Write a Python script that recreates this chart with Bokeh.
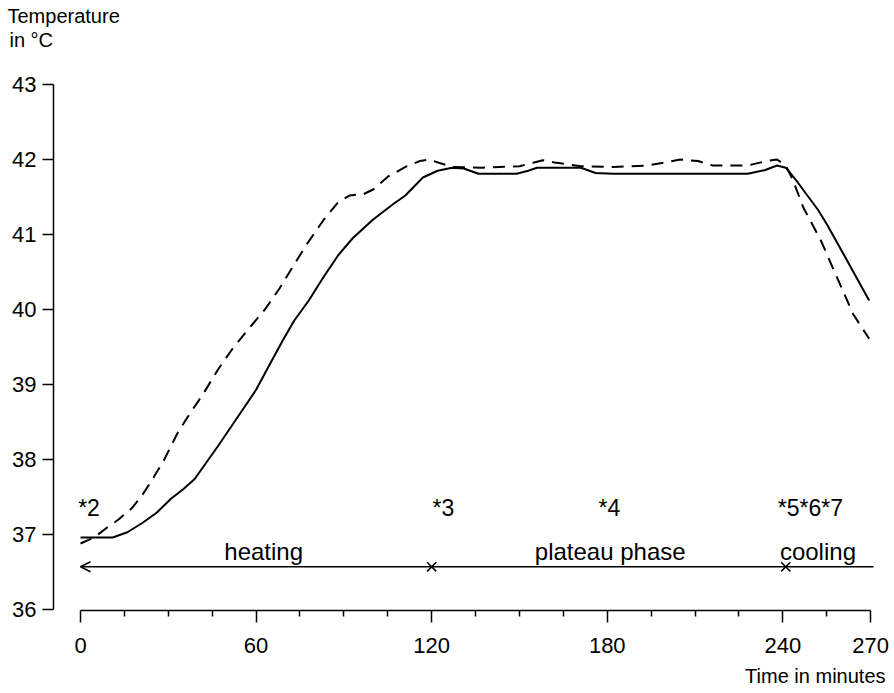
from bokeh.plotting import figure
from bokeh.models import Range1d, FixedTicker, Label, Arrow, OpenHead, Title
from bokeh.embed import file_html
from bokeh.resources import INLINE

# ---- data ----
solid_t = [0, 5, 11, 16, 21, 26, 31, 35, 39, 43, 47, 51, 55, 60, 64, 69, 73, 78, 83, 88, 93,
           100, 107, 111, 114, 117, 122, 127, 131, 136, 149, 153, 156, 171, 176, 182, 228,
           234, 238, 241, 245, 248, 252, 255, 262, 269.5]
solid_T = [36.96, 36.96, 36.96, 37.03, 37.15, 37.29, 37.48, 37.6, 37.74, 37.96, 38.18, 38.41,
           38.64, 38.93, 39.22, 39.58, 39.85, 40.12, 40.43, 40.72, 40.95, 41.2, 41.41, 41.52,
           41.64, 41.76, 41.85, 41.89, 41.88, 41.81, 41.81, 41.85, 41.89, 41.89, 41.82, 41.81,
           41.81, 41.86, 41.92, 41.89, 41.7, 41.54, 41.33, 41.14, 40.65, 40.12]

dashed_t = [0, 4.6, 9, 13, 17.5, 21, 24, 28.5, 33, 36.5, 42, 47, 52, 57, 63, 68, 73, 77.5, 83,
            88, 92, 96.8, 100, 105, 111.5, 116, 119, 123, 127, 137, 150, 155, 158, 162, 171,
            182, 194, 205, 211, 216, 228, 234.5, 238, 241, 243.5, 247, 253, 258.5, 264, 269.5]
dashed_T = [36.88, 36.96, 37.09, 37.2, 37.35, 37.52, 37.7, 37.99, 38.34, 38.56, 38.88, 39.2,
            39.48, 39.72, 40.0, 40.28, 40.6, 40.88, 41.19, 41.43, 41.52, 41.54, 41.6, 41.77,
            41.91, 41.98, 42.0, 41.95, 41.9, 41.89, 41.91, 41.96, 41.99, 41.96, 41.91, 41.9,
            41.92, 42.0, 41.98, 41.92, 41.92, 41.98, 42.0, 41.92, 41.72, 41.36, 40.92, 40.43,
            39.94, 39.61]

x_ticks = [0, 60, 120, 180, 240, 270]
x_minor = [15, 30, 45, 75, 90, 105, 135, 150, 165, 195, 210, 225, 255]
y_ticks = [36, 37, 38, 39, 40, 41, 42, 43]

phase_names = ["heating", "plateau phase", "cooling"]
phase_centers = [62.6, 181, 252]
phase_marks = [120, 241]
phase_line = [0, 271]
phase_level = 36.57

note_texts = ["*2", "*3", "*4", "*5*6*7"]
note_pos = [-0.8, 120.3, 177, 238.3]
note_level = 37.35

FONT = "Liberation Sans"

p = figure(width=894, height=693, output_backend="svg", toolbar_location=None,
           x_range=Range1d(-9.23, 274.4), y_range=Range1d(35.987, 43.453),
           min_border_left=53, min_border_right=11, min_border_top=50, min_border_bottom=83)
p.outline_line_color = None
p.xgrid.visible = False
p.ygrid.visible = False
p.background_fill_color = "white"
p.border_fill_color = "white"

# axes
xa = p.xaxis[0]
xa.bounds = (0, 270)
xa.ticker = FixedTicker(ticks=x_ticks, minor_ticks=x_minor)
xa.major_tick_out = 12
xa.major_tick_in = 0
xa.minor_tick_out = 6
xa.minor_tick_in = 0
xa.axis_line_width = 1.5
xa.major_tick_line_width = 1.5
xa.minor_tick_line_width = 1.5
xa.axis_line_color = "black"
xa.major_tick_line_color = "black"
xa.minor_tick_line_color = "black"
xa.major_label_text_font = FONT
xa.major_label_text_font_size = "22px"
xa.major_label_text_color = "black"
xa.major_label_standoff = 15

ya = p.yaxis[0]
ya.bounds = (36, 43)
ya.ticker = FixedTicker(ticks=y_ticks, minor_ticks=[])
ya.major_tick_out = 11
ya.major_tick_in = 0
ya.minor_tick_line_color = None
ya.axis_line_width = 1.5
ya.major_tick_line_width = 1.5
ya.axis_line_color = "black"
ya.major_tick_line_color = "black"
ya.major_label_text_font = FONT
ya.major_label_text_font_size = "22px"
ya.major_label_text_color = "black"
ya.major_label_standoff = 6

# curves
p.line(solid_t, solid_T, line_color="black", line_width=2)
p.line(dashed_t, dashed_T, line_color="black", line_width=2, line_dash="12 8")

# phase line with arrow head and crosses
p.add_layout(Arrow(end=OpenHead(size=10, line_width=1.5, line_color="black"),
                   x_start=phase_line[1], y_start=phase_level,
                   x_end=phase_line[0], y_end=phase_level,
                   line_width=1.5, line_color="black"))
p.scatter(phase_marks, [phase_level] * len(phase_marks), marker="x", size=13,
          line_color="black", line_width=1.5)

for name, cx in zip(phase_names, phase_centers):
    p.add_layout(Label(x=cx, y=36.78, text=name, text_align="center",
                       text_baseline="alphabetic", text_font=FONT,
                       text_font_size="24px", text_color="black"))

for txt, px in zip(note_texts, note_pos):
    p.add_layout(Label(x=px, y=note_level, text=txt, text_align="left",
                       text_baseline="alphabetic", text_font=FONT,
                       text_font_size="23px", text_color="black"))

# axis titles (as layout titles so they sit outside the frame)
p.add_layout(Title(text="in °C", align="left", offset=-44, standoff=0,
                   text_font=FONT, text_font_size="20px", text_font_style="normal",
                   text_color="black"), "above")
p.add_layout(Title(text="Temperature", align="left", offset=-46, standoff=0,
                   text_font=FONT, text_font_size="20px", text_font_style="normal",
                   text_color="black"), "above")
p.add_layout(Title(text="Time in minutes", align="right", offset=-2, standoff=14,
                   text_font=FONT, text_font_size="20px", text_font_style="normal",
                   text_color="black"), "below")

open("out.html", "w").write(file_html(p, INLINE))
